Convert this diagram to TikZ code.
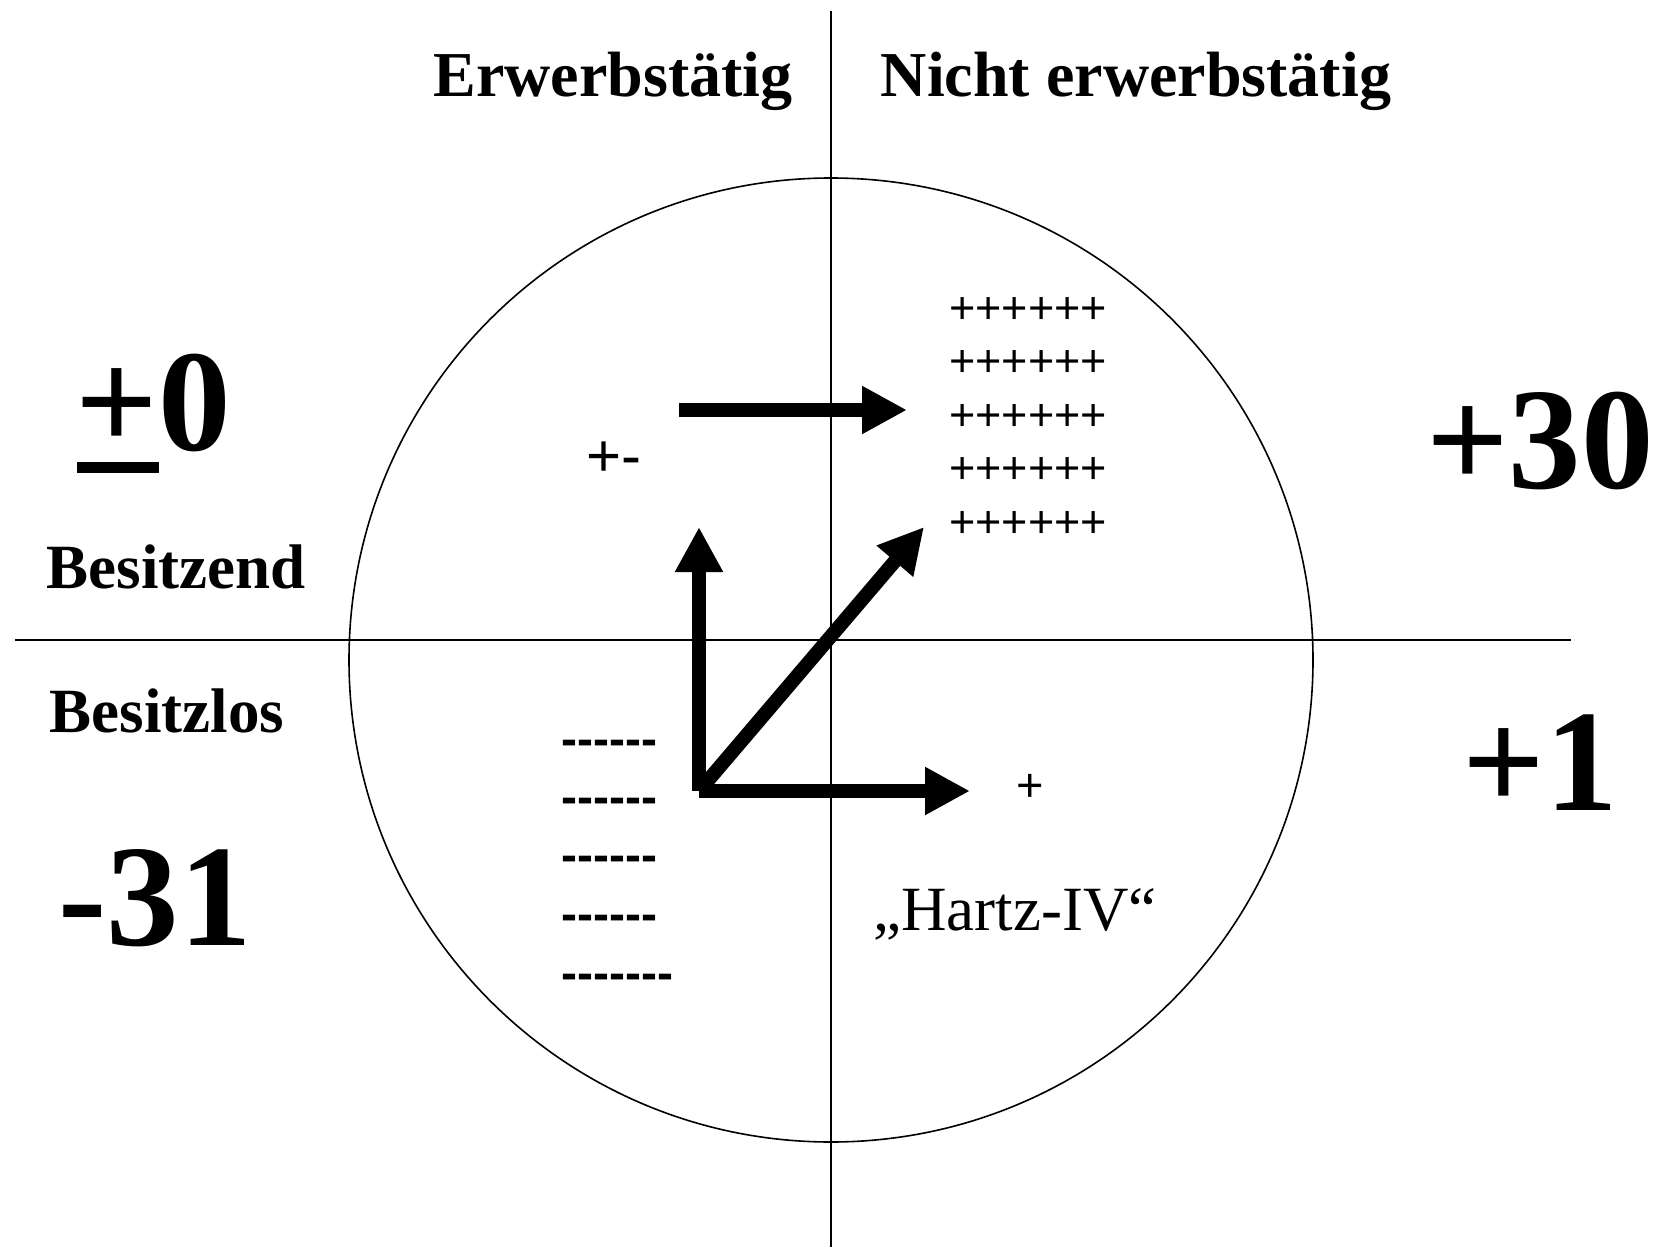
\documentclass[tikz,border=0pt]{standalone}
\usepackage{fontspec}
\setmainfont{Liberation Serif}
\newfontfamily\sansf{Liberation Sans}
\usetikzlibrary{arrows.meta}
\newcommand\hy{-\kern0pt}
\newcommand\fs[1]{\fontsize{#1}{#1}\selectfont}
\newcommand\ulplus{\makebox[0pt][l]{\kern2pt\raisebox{-23pt}{\rule{82pt}{11pt}}}+}
\begin{document}
\begin{tikzpicture}[x=1pt,y=-1pt,
  txt/.style={inner sep=0pt,anchor=base},
  head/.style={txt,font=\fs{64}\bfseries},
  side/.style={txt,font=\fs{63}\bfseries},
  big/.style={txt,font=\fs{145}\bfseries},
  plusrow/.style={txt,font=\sansf\fs{45}},
  dashrow/.style={txt,anchor=base west,font=\sansf\fs{48}\bfseries},
  thin/.style={line width=1.6pt},
  fat/.style={line width=14pt,-{Triangle[length=45pt,width=45pt]}}]
\useasboundingbox (0,0) rectangle (1660,1247);
\fill[white] (0,0) rectangle (1660,1247);
% axes and circle
\coordinate (vt) at (831,11);
\coordinate (vb) at (831,1247);
\coordinate (hl) at (15,640);
\coordinate (hr) at (1571,640);
\coordinate (c) at (831,660);
\draw[thin] (vt) -- (vb);
\draw[thin] (hl) -- (hr);
\draw[thin] (c) circle[radius=482];
% headings
\node[head] (erw) at (613,96) {Erwerbstätig};
\node[head] (nerw) at (1136,96) {Nicht erwerbstätig};
\node[side] (bes) at (176,588) {Besitzend};
\node[side] (besl) at (167,732) {Besitzlos};
\node[big] (pm) at (153,450) {\ulplus0};
\node[big] (m31) at (155,945) {-31};
\node[big] (p30) at (1540,488) {+30};
\node[big] (p1) at (1540,810) {+1};
% small texts
\node[txt,font=\sansf\fs{60}] (pmsmall) at (614,476) {+-};
\node[plusrow] (r1) at (1028,323) {++++++};
\node[plusrow] (r2) at (1028,376.5) {++++++};
\node[plusrow] (r3) at (1028,430) {++++++};
\node[plusrow] (r4) at (1028,483.5) {++++++};
\node[plusrow] (r5) at (1028,537) {++++++};
\node[txt,font=\sansf\fs{47}] (plone) at (1030,801) {+};
\node[txt,font=\fs{63}] (hartz) at (1015,930) {„Hartz-IV“};
\node[dashrow] (d1) at (561,755) {\hy\hy\hy\hy\hy\hy};
\node[dashrow] (d2) at (561,813) {\hy\hy\hy\hy\hy\hy};
\node[dashrow] (d3) at (561,871) {\hy\hy\hy\hy\hy\hy};
\node[dashrow] (d4) at (561,930) {\hy\hy\hy\hy\hy\hy};
\node[dashrow] (d5) at (561,989) {\hy\hy\hy\hy\hy\hy\hy};
% arrows
\coordinate (o) at (699,791);
\coordinate (tu) at (699,527);
\coordinate (tr) at (970,791);
\coordinate (td) at (924,527);
\coordinate (ts) at (679,410);
\coordinate (te) at (907,410);
\draw[fat] (ts) -- (te);
\draw[fat] (o) -- (tu);
\draw[fat] (o) -- (tr);
\draw[fat] (o) -- (td);
\end{tikzpicture}
\end{document}
